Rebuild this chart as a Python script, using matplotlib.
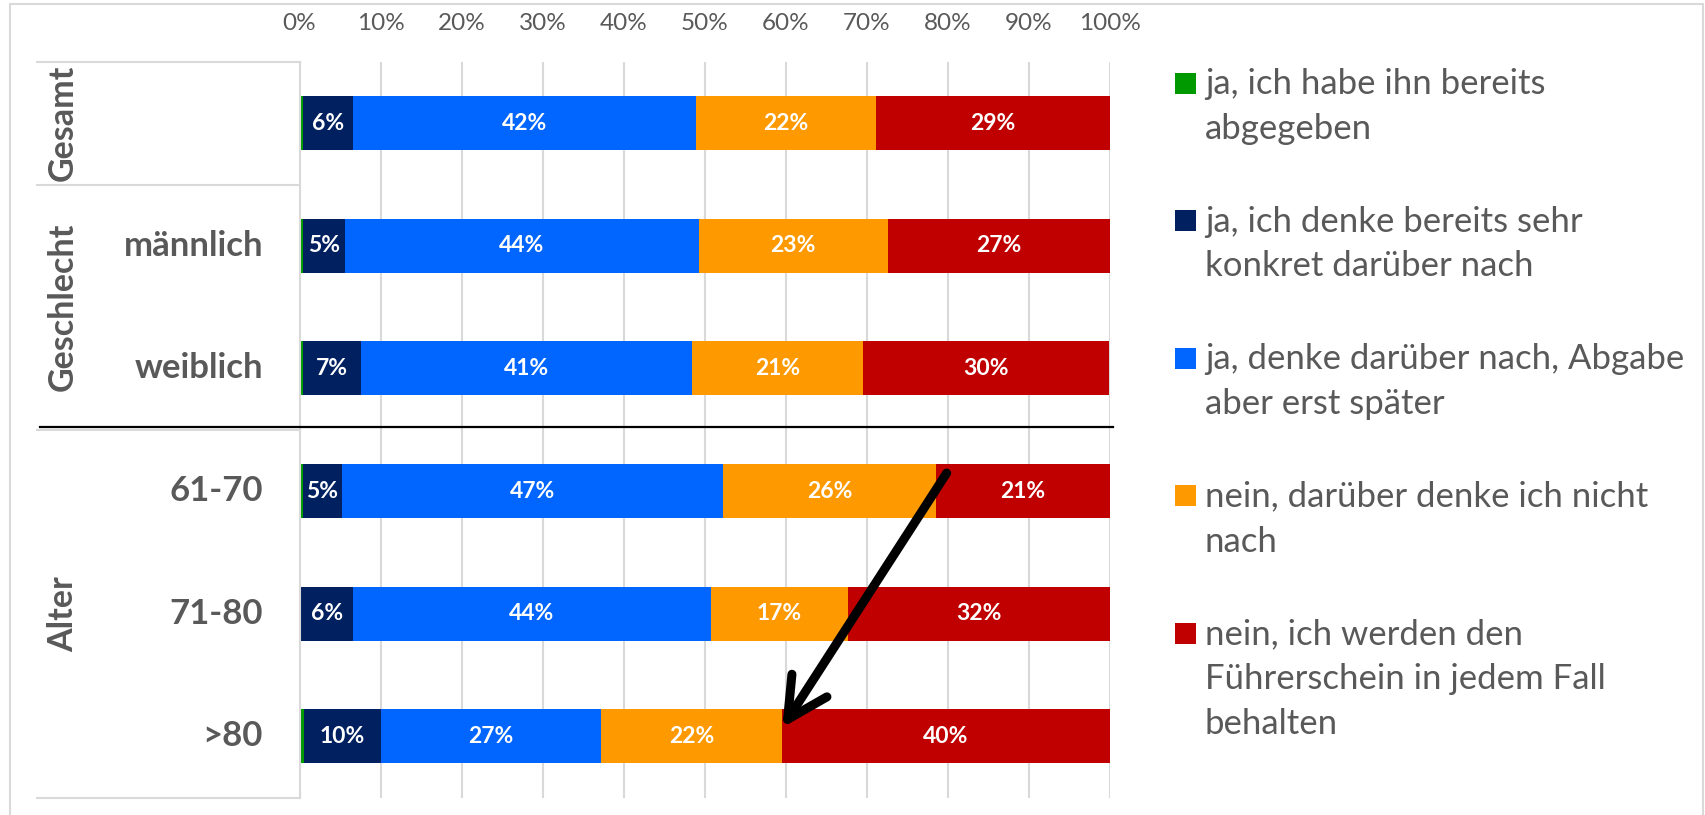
import matplotlib
matplotlib.use("Agg")
import matplotlib.pyplot as plt
from matplotlib.patches import Rectangle
from matplotlib.lines import Line2D
from matplotlib.transforms import blended_transform_factory
import numpy as np

plt.rcParams['font.family'] = ['Lato', 'DejaVu Sans']

# ---------------- data ----------------
rows = ["Gesamt", "männlich", "weiblich", "61-70", "71-80", ">80"]
groups = ["Gesamt", "Geschlecht", "Alter"]
group_rows = [(0, 0), (1, 2), (3, 5)]
series = [
    "ja, ich habe ihn bereits\nabgegeben",
    "ja, ich denke bereits sehr\nkonkret darüber nach",
    "ja, denke darüber nach, Abgabe\naber erst später",
    "nein, darüber denke ich nicht\nnach",
    "nein, ich werden den\nFührerschein in jedem Fall\nbehalten",
]
abgegeben = [0.4, 0.4, 0.4, 0.4, 0.2, 0.5]
konkret = [6.2, 5.2, 7.2, 4.8, 6.4, 9.6]
spaeter = [42.3, 43.7, 40.8, 47.1, 44.2, 27.1]
nicht = [22.3, 23.3, 21.2, 26.3, 16.9, 22.4]
behalten = [28.8, 27.4, 30.4, 21.4, 32.3, 40.4]
values = [abgegeben, konkret, spaeter, nicht, behalten]
colors = ["#009A00", "#002060", "#0066FF", "#FF9900", "#C00000"]
xticks = [0, 10, 20, 30, 40, 50, 60, 70, 80, 90, 100]
xticklabels = [f"{t}%" for t in xticks]

GRAY = "#595959"
LGRAY = "#D9D9D9"

W, H = 1706, 815
fig = plt.figure(figsize=(W / 100, H / 100), dpi=100)

def fx(px):
    return px / W

def fy(py):
    return 1 - py / H

ax_left, ax_right, ax_top, ax_bot = 299.5, 1109.5, 62, 797.5
ax = fig.add_axes([fx(ax_left), fy(ax_bot), fx(ax_right) - fx(ax_left), fy(ax_top) - fy(ax_bot)])

y = np.arange(len(rows))
left = np.zeros(len(rows))
for i, (vals, col) in enumerate(zip(values, colors)):
    vals = np.array(vals)
    cont = ax.barh(y, vals, left=left, height=0.44, color=col, edgecolor="none", zorder=3)
    if i > 0:
        ax.bar_label(cont, labels=[f"{v:.0f}%" for v in vals], label_type="center",
                     color="white", fontweight="bold", fontsize=16.5, zorder=5)
    left += vals

ax.set_xlim(0, 100)
ax.set_ylim(len(rows) - 0.5, -0.5)
ax.set_xticks(xticks)
ax.set_xticklabels(xticklabels, fontsize=17.5, color=GRAY)
ax.xaxis.tick_top()
ax.tick_params(axis="x", length=0, pad=20)
ax.set_yticks([])
ax.grid(axis="x", color=LGRAY, linewidth=1.5, zorder=0)
for s in ["top", "right", "bottom"]:
    ax.spines[s].set_visible(False)
ax.spines["left"].set_color(LGRAY)
ax.spines["left"].set_linewidth(1.5)
ax.spines["left"].set_zorder(4)

# category labels
tr = blended_transform_factory(fig.transFigure, ax.transData)
for i, r in enumerate(rows):
    if i == 0:
        continue
    ax.text(fx(263), i, r, transform=tr, ha="right", va="center",
            fontsize=25, fontweight="bold", color=GRAY)
for g, (a, b) in zip(groups, group_rows):
    ax.text(fx(63), (a + b) / 2, g, transform=tr, ha="center", va="center",
            rotation=90, fontsize=24.5, fontweight="bold", color=GRAY)

# category table lines
for py in [62, 185, 430.5, 797.5]:
    fig.add_artist(Line2D([fx(37), fx(299.5)], [fy(py), fy(py)], color=LGRAY, lw=1.5))

# black separator line
fig.add_artist(Line2D([fx(40), fx(1113)], [fy(427), fy(427)], color="black", lw=1.6, zorder=6))

# outer border
fig.add_artist(Rectangle((fx(10), fy(830)), fx(1703) - fx(10), fy(4) - fy(830),
                         fill=False, edgecolor=LGRAY, lw=1.5))

# legend (manual)
for k, (lab, col) in enumerate(zip(series, colors)):
    cy = 83 + 137.5 * k
    fig.add_artist(Rectangle((fx(1175), fy(cy + 10.5)), fx(21), 21 / H, color=col, lw=0))
    fig.text(fx(1205), fy(cy - 15), lab, ha="left", va="top", fontsize=25,
             color=GRAY, linespacing=1.5)

# arrow
end_y = len(rows) - 1
cum_before_red = sum(v[end_y] for v in values[:4])
ax.annotate("", xy=(cum_before_red, end_y - 0.07), xytext=(79.9, 2.853),
            arrowprops=dict(arrowstyle="->,head_length=2.9,head_width=1.5", lw=6.5,
                            color="black", shrinkA=0, shrinkB=0, joinstyle="round",
                            capstyle="round"),
            zorder=7, annotation_clip=False)

fig.savefig("out.png", dpi=100)
